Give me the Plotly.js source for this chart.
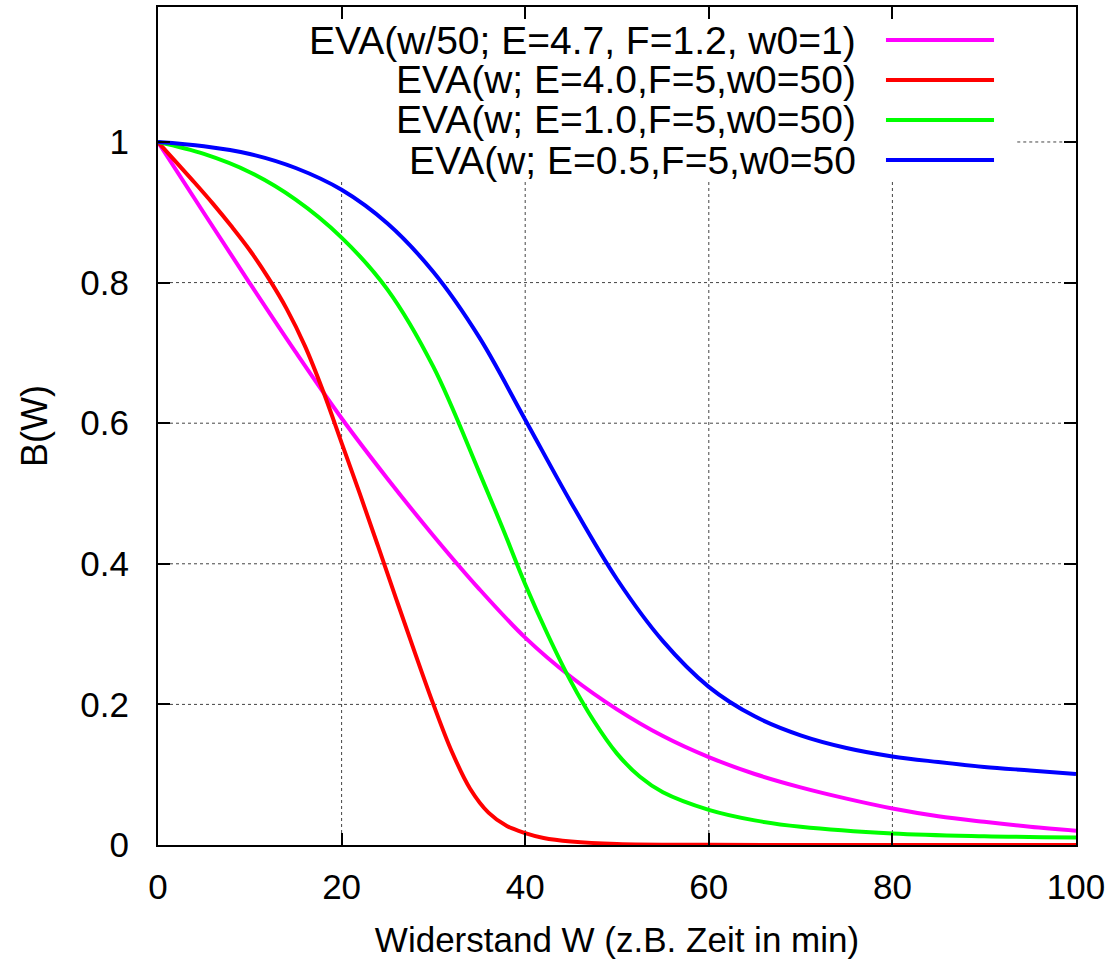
<!DOCTYPE html>
<html>
<head>
<meta charset="utf-8">
<script src="https://cdn.plot.ly/plotly-3.0.1.min.js"></script>
<style>html,body{margin:0;padding:0;background:#fff;}#chart{width:1117px;height:966px;}</style>
</head>
<body>
<div id="chart"></div>
<script>
// Series labels
const seriesNames = [
  "EVA(w/50; E=4.7, F=1.2, w0=1)",
  "EVA(w; E=4.0,F=5,w0=50)",
  "EVA(w; E=1.0,F=5,w0=50)",
  "EVA(w; E=0.5,F=5,w0=50"
];
const seriesColors = ["#ff00ff", "#ff0000", "#00ff00", "#0000ff"];

// Values
const magentaW = [0,5,10,15,20,25,30,35,40,45,50,55,60,65,70,75,80,85,90,95,100];
const magentaB = [1,0.899,0.799,0.701,0.607,0.521,0.44,0.364,0.295,0.239,0.193,0.155,0.125,0.101,0.082,0.066,0.052,0.041,0.033,0.026,0.0204];

const redW = [0,2,4,6,8,10,12,14,16,18,20,22,24,26,28,30,32,34,36,38,40,42,45,50,60,80,100];
const redB = [1,0.971,0.942,0.912,0.88,0.846,0.807,0.763,0.71,0.645,0.572,0.499,0.424,0.348,0.273,0.20,0.133,0.08,0.046,0.027,0.017,0.01,0.005,0.0015,0.0003,0,0];

const greenW = [0,5,10,15,20,25,30,35,37.5,40,42.5,45,47.5,50,52.5,55,60,65,70,80,90,100];
const greenB = [1,0.983,0.957,0.918,0.864,0.79,0.68,0.53,0.452,0.371,0.298,0.232,0.176,0.13,0.097,0.075,0.05,0.035,0.026,0.0165,0.0125,0.0105];

const blueW = [0,5,10,15,20,25,30,35,40,45,50,55,60,65,70,75,80,85,90,95,100];
const blueB = [1,0.994,0.983,0.963,0.932,0.884,0.815,0.722,0.605,0.487,0.378,0.29,0.225,0.183,0.156,0.138,0.126,0.118,0.111,0.106,0.101];

const xTicks = [0,20,40,60,80,100];
const yTicks = [0,0.2,0.4,0.6,0.8,1];

const xs = [magentaW, redW, greenW, blueW];
const ys = [magentaB, redB, greenB, blueB];

const traces = xs.map((x, i) => ({
  x: x, y: ys[i], type: "scatter", mode: "lines", name: seriesNames[i],
  line: {color: seriesColors[i], width: 4, shape: "spline", smoothing: 1},
  showlegend: false
}));

const FONT = "Liberation Sans, Arial, sans-serif";
const legendRowsY = [0.9606, 0.9129, 0.8652, 0.8174];

const annotations = seriesNames.map((t, i) => ({
  xref: "paper", yref: "paper", x: 0.7625, y: legendRowsY[i],
  xanchor: "right", yanchor: "middle", text: t, showarrow: false,
  font: {family: FONT, size: 39, color: "#000"}
}));

// dotted grid drawn as shapes so the key area stays clear
const X_MAX = 100, Y_MAX = 1.192, KEY_BOTTOM = 0.946, KEY_RIGHT = 93.6;
const gridStyle = {color: "#444", width: 1, dash: "dot"};
const gridShapes = [];
xTicks.filter(v => v > 0 && v < X_MAX).forEach(v => gridShapes.push({
  type: "line", xref: "x", yref: "y", x0: v, x1: v, y0: 0, y1: KEY_BOTTOM, line: gridStyle, layer: "below"
}));
yTicks.filter(v => v > 0).forEach(v => gridShapes.push({
  type: "line", xref: "x", yref: "y", x0: (v >= KEY_BOTTOM ? KEY_RIGHT : 0), x1: X_MAX, y0: v, y1: v, line: gridStyle, layer: "below"
}));

const keyShapes = seriesColors.map((c, i) => ({
  type: "line", xref: "paper", yref: "paper", x0: 0.793, x1: 0.9107,
  y0: legendRowsY[i], y1: legendRowsY[i], line: {color: c, width: 4}, layer: "above"
}));

const axisCommon = {
  showline: true, linecolor: "#000", linewidth: 2, mirror: "ticks",
  ticks: "inside", ticklen: 12, tickwidth: 2, tickcolor: "#000",
  showgrid: false, zeroline: false,
  tickfont: {family: FONT, size: 35, color: "#000"},
  automargin: false
};

const layout = {
  width: 1117, height: 966,
  margin: {l: 158, r: 41, t: 7, b: 121, pad: 0},
  paper_bgcolor: "#fff", plot_bgcolor: "#fff",
  showlegend: false,
  xaxis: Object.assign({}, axisCommon, {
    range: [0, X_MAX], tickvals: xTicks, ticktext: xTicks.map(String),
    ticklabelstandoff: 10,
    title: {text: "Widerstand W (z.B. Zeit in min)", font: {family: FONT, size: 35, color: "#000"}, standoff: 22}
  }),
  yaxis: Object.assign({}, axisCommon, {
    range: [0, Y_MAX], tickvals: yTicks, ticktext: yTicks.map(String),
    ticklabelstandoff: 20,
    title: {text: "B(W)", font: {family: FONT, size: 36, color: "#000"}, standoff: 22}
  }),
  annotations: annotations,
  shapes: gridShapes.concat(keyShapes)
};

Plotly.newPlot("chart", traces, layout, {staticPlot: true, displayModeBar: false});
</script>
</body>
</html>
